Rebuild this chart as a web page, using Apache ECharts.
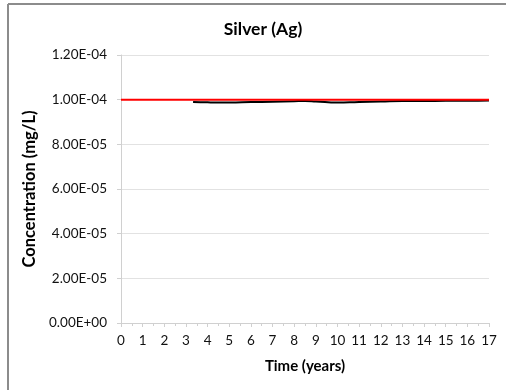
<!DOCTYPE html>
<html><head><meta charset="utf-8">
<script src="https://cdn.jsdelivr.net/npm/echarts@6/dist/echarts.min.js"></script>
<style>html,body{margin:0;padding:0;background:#fff}#c{width:506px;height:390px}</style>
</head><body><div id="c"></div>
<script>
const title = 'Silver (Ag)';
const xName = 'Time (years)';
const yName = 'Concentration (mg/L)';
const limitTimes = [0, 17];
const limitValues = [1.0e-4, 1.0e-4];
const measTimes = [3.33, 4, 5, 6, 7, 8, 8.5, 9, 10, 11, 12, 13, 14, 15, 16, 17];
const measValues = [9.90e-5, 9.88e-5, 9.87e-5, 9.89e-5, 9.91e-5, 9.93e-5, 9.94e-5, 9.92e-5, 9.87e-5, 9.90e-5, 9.92e-5, 9.94e-5, 9.94e-5, 9.95e-5, 9.95e-5, 9.96e-5];

function fmtE(v){
  if (Math.abs(v) < 1e-12) return '0.00E+00';
  let s = v.toExponential(2).toUpperCase();
  return s.replace(/E([+-])(\d)$/, 'E$10$2');
}
const font = 'Lato, "Open Sans", sans-serif';
const chart = echarts.init(document.getElementById('c'));
chart.setOption({
  animation: false,
  title: { text: title, left: 258, top: 15, textAlign: 'center',
    textStyle: { fontFamily: font, fontSize: 17.5, fontWeight: 'bold', color: '#000' } },
  grid: { left: 121, right: 17, top: 55, bottom: 67 },
  graphic: [
    { type: 'line', shape: { x1: 8, y1: 4, x2: 506, y2: 4 }, style: { stroke: '#8c8c8c', lineWidth: 2 } },
    { type: 'line', shape: { x1: 8, y1: 4, x2: 8, y2: 390 }, style: { stroke: '#8c8c8c', lineWidth: 2 } }
  ],
  xAxis: {
    type: 'value', min: 0, max: 17, interval: 1,
    name: xName, nameLocation: 'middle', nameGap: 36,
    nameTextStyle: { fontFamily: font, fontSize: 15, fontWeight: 'bold', color: '#000' },
    axisLine: { show: true, lineStyle: { color: '#d0d0d0', width: 1 } },
    axisTick: { show: true, length: 4, lineStyle: { color: '#d0d0d0' } },
    minorTick: { show: true, splitNumber: 2, length: 3, lineStyle: { color: '#d0d0d0' } },
    splitLine: { show: false },
    axisLabel: { fontFamily: font, fontSize: 13.5, color: '#111', margin: 11 }
  },
  yAxis: {
    type: 'value', min: 0, max: 1.2e-4, interval: 2e-5,
    name: yName, nameLocation: 'middle', nameGap: 82,
    nameTextStyle: { fontFamily: font, fontSize: 16.5, fontWeight: 'bold', color: '#000' },
    axisLine: { show: true, lineStyle: { color: '#d0d0d0', width: 1 } },
    axisTick: { show: true, length: 4, lineStyle: { color: '#d0d0d0' } },
    splitLine: { show: true, lineStyle: { color: '#e2e2e2', width: 1 } },
    axisLabel: { fontFamily: font, fontSize: 13.5, color: '#111', margin: 14, formatter: fmtE }
  },
  series: [
    { type: 'line', data: measTimes.map((t,i)=>[t, measValues[i]]), showSymbol: false, smooth: true,
      lineStyle: { color: '#000', width: 2 } },
    { type: 'line', data: limitTimes.map((t,i)=>[t, limitValues[i]]), showSymbol: false,
      lineStyle: { color: '#ff0000', width: 2 } }
  ]
});
</script></body></html>
